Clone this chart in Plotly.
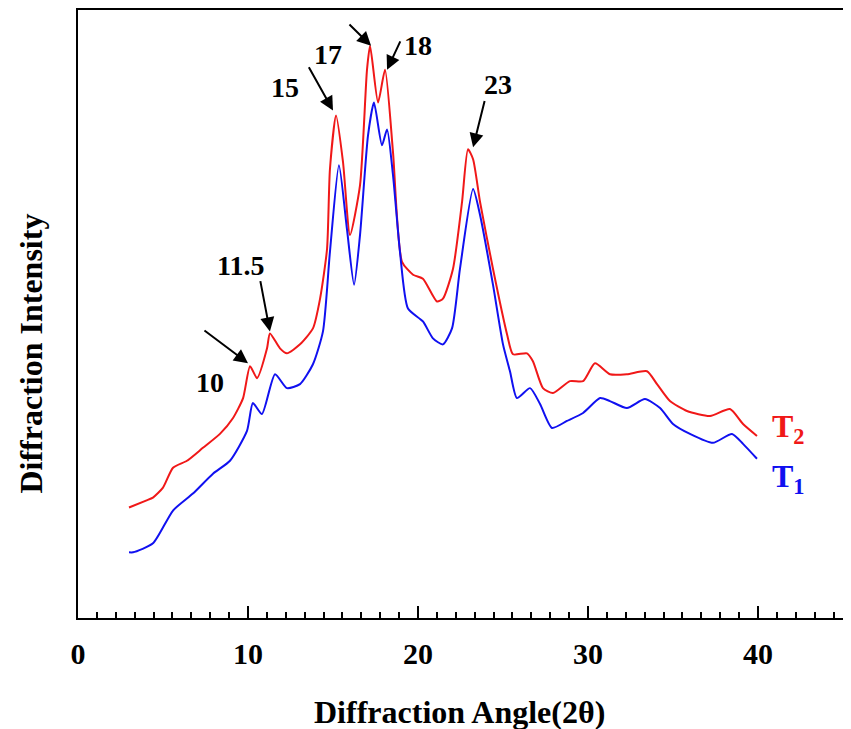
import plotly.graph_objects as go

# intensities (arbitrary units, 0 = x axis, 611 = top frame)
angle_t2 = [3.0, 4.0, 4.41, 5.0, 5.59, 6.41, 7.35, 8.35, 9.12, 9.71, 10.12, 10.53, 11.12, 11.29,
            11.88, 12.29, 13.06, 13.82, 14.24, 14.65, 14.82, 15.18, 15.59, 16.0, 16.59, 17.0,
            17.18, 17.65, 18.06, 18.53, 19.06, 19.71, 20.29, 21.12, 21.47, 22.06, 22.59, 22.94,
            23.24, 23.65, 24.41, 25.24, 25.59, 26.41, 26.76, 27.35, 27.94, 28.94, 29.71, 30.41,
            31.29, 32.29, 33.47, 34.06, 34.82, 35.82, 37.18, 38.35, 39.12, 39.94]
inten_t2 = [111, 118, 121, 131, 151, 158, 171, 185, 201, 221, 253, 241, 271, 286,
            271, 266, 275, 291, 321, 371, 451, 505, 458, 385, 435, 551,
            575, 518, 551, 468, 358, 345, 341, 318, 321, 351, 418, 471,
            461, 418, 351, 285, 265, 266, 258, 231, 226, 238, 238, 256,
            245, 245, 248, 235, 218, 208, 203, 210, 195, 183]

angle_t1 = [3.0, 3.24, 4.41, 5.59, 6.76, 7.94, 8.94, 9.94, 10.29, 10.82, 11.59, 12.29, 13.06,
            13.82, 14.41, 14.82, 15.35, 15.82, 16.24, 16.59, 17.06, 17.41, 17.88, 18.18, 18.53,
            18.94, 19.41, 20.29, 20.88, 21.47, 22.0, 22.47, 23.24, 23.65, 24.41, 25.0, 25.41,
            25.82, 26.59, 27.18, 27.88, 28.76, 29.71, 30.71, 31.29, 32.29, 33.35, 34.24, 35.0,
            36.0, 37.35, 38.47, 39.12, 39.94]
inten_t1 = [66, 66, 75, 108, 125, 145, 158, 188, 216, 205, 245, 231, 235,
            255, 288, 368, 455, 391, 335, 385, 485, 518, 475, 491, 445,
            368, 311, 298, 281, 275, 291, 351, 431, 405, 335, 275, 248,
            221, 231, 215, 191, 198, 206, 221, 218, 211, 220, 211, 195,
            185, 176, 185, 175, 160]

# peak labels: text, label pos, arrow head, arrow tail
peak_text = ['10', '11.5', '15', '17', '', '18', '23']
peak_label_x = [7.76, 9.53, 12.18, 14.71, None, 20.0, 24.71]
peak_label_y = [237, 354, 533, 566, None, 575, 536]
arrow_head_x = [10.0, 11.29, 15.0, None, 17.24, 18.18, 23.24]
arrow_head_y = [256, 288, 510, None, 575, 551, 473]
arrow_tail_x = [7.35, 10.71, 13.53, None, 15.88, 19.0, 23.94]
arrow_tail_y = [290, 340, 555, None, 598, 581, 521]

FONT = 'Liberation Serif'
RED = '#f01818'
BLUE = '#1010f0'

fig = go.Figure()
fig.add_trace(go.Scatter(x=angle_t2, y=inten_t2, mode='lines', name='T2',
                         line=dict(color=RED, width=2, shape='spline', smoothing=0.6)))
fig.add_trace(go.Scatter(x=angle_t1, y=inten_t1, mode='lines', name='T1',
                         line=dict(color=BLUE, width=2, shape='spline', smoothing=0.6)))

for i in range(len(peak_text)):
    if peak_text[i]:
        fig.add_annotation(x=peak_label_x[i], y=peak_label_y[i], text=peak_text[i],
                           showarrow=False, font=dict(family=FONT, size=28, color='black', weight='bold'))
    if arrow_head_x[i] is not None:
        fig.add_annotation(x=arrow_head_x[i], y=arrow_head_y[i], ax=arrow_tail_x[i], ay=arrow_tail_y[i],
                           axref='x', ayref='y', text='', showarrow=True,
                           arrowhead=2, arrowsize=1.4, arrowwidth=2, arrowcolor='black', standoff=0)

fig.add_annotation(x=40.7, y=190, text='T<sub>2</sub>', showarrow=False, xanchor='left',
                   font=dict(family=FONT, size=32, color=RED, weight='bold'))
fig.add_annotation(x=40.7, y=140, text='T<sub>1</sub>', showarrow=False, xanchor='left',
                   font=dict(family=FONT, size=32, color=BLUE, weight='bold'))

# axis titles
fig.add_annotation(xref='paper', yref='paper', x=0.4993, y=-0.154, text='Diffraction Angle(2θ)',
                   xanchor='center', yanchor='middle', showarrow=False,
                   font=dict(family=FONT, size=32, color='black', weight='bold'))
fig.add_annotation(xref='paper', yref='paper', x=-0.0627, y=0.435, text='Diffraction Intensity',
                   textangle=-90, xanchor='center', yanchor='middle', showarrow=False,
                   font=dict(family=FONT, size=32, color='black', weight='bold'))

# page body adds an 8px offset, so the figure is a bit smaller than the window
fig.update_layout(
    width=843, height=721,
    margin=dict(l=70, r=8, t=0, b=111),
    paper_bgcolor='white', plot_bgcolor='white',
    showlegend=False,
    xaxis=dict(range=[0, 45], tickmode='linear', tick0=0, dtick=10,
               ticks='inside', ticklen=12, tickwidth=2, tickcolor='black',
               minor=dict(dtick=10 / 9, tick0=0, ticks='inside', ticklen=6, tickwidth=2, tickcolor='black'),
               showline=True, linewidth=2, linecolor='black', mirror=True,
               showgrid=False, zeroline=False, ticklabelstandoff=8,
               tickfont=dict(family=FONT, size=30, color='black', weight='bold')),
    yaxis=dict(range=[0, 611], showticklabels=False, ticks='',
               showline=True, linewidth=2, linecolor='black', mirror=True,
               showgrid=False, zeroline=False),
)

fig.write_html('out.html')
